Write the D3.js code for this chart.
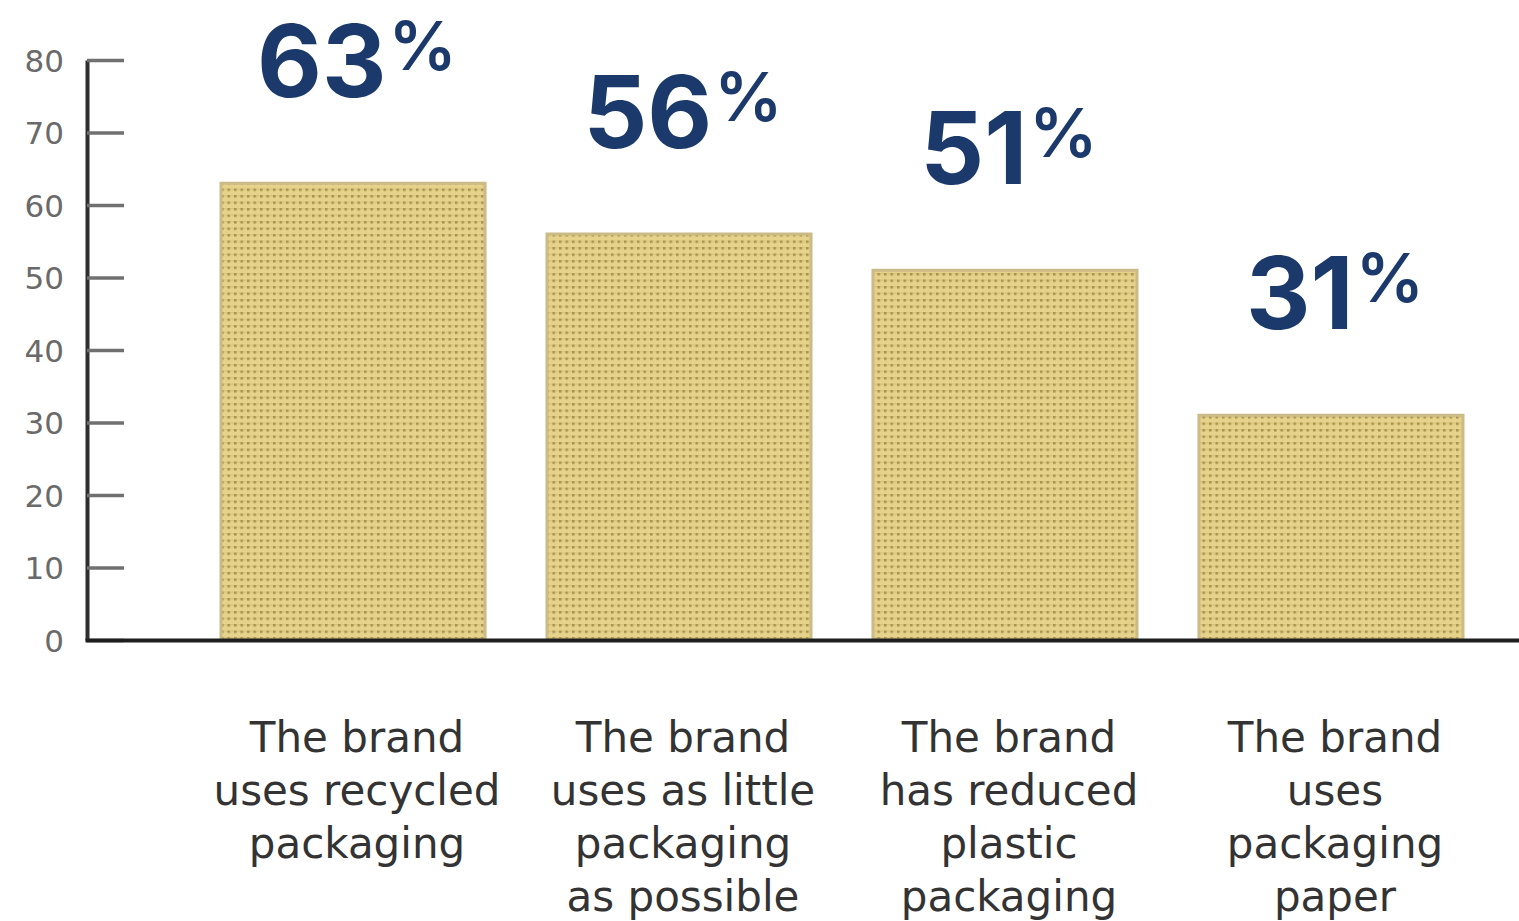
<!DOCTYPE html>
<html>
<head>
<meta charset="utf-8">
<script src="https://cdn.jsdelivr.net/npm/d3@7"></script>
<style>
  html, body { margin: 0; padding: 0; background: #ffffff; }
  svg { display: block; }
</style>
</head>
<body>
<svg id="chart" width="1519" height="921"></svg>
<script>
// Share of shoppers citing each packaging practice (%)
const categories = [
  "The brand uses recycled packaging",
  "The brand uses as little packaging as possible",
  "The brand has reduced plastic packaging",
  "The brand uses packaging paper"
];
const categoryLines = [
  ["The brand", "uses recycled", "packaging"],
  ["The brand", "uses as little", "packaging", "as possible"],
  ["The brand", "has reduced", "plastic", "packaging"],
  ["The brand", "uses", "packaging", "paper"]
];
const values = [63, 56, 51, 31];
const yTicks = [0, 10, 20, 30, 40, 50, 60, 70, 80];

const svg = d3.select("#chart");

const y = d3.scaleLinear().domain([0, 80]).range([640, 60]);
const x = d3.scaleBand().domain(categories).range([221, 1463])
  .paddingInner(0.19).paddingOuter(0);

// dotted kraft-paper texture for the bars
const defs = svg.append("defs");
const pat = defs.append("pattern")
  .attr("id", "kraft").attr("patternUnits", "userSpaceOnUse")
  .attr("width", 6.5).attr("height", 6.5);
pat.append("rect").attr("width", 6.5).attr("height", 6.5).attr("fill", "#e6d28a");
pat.append("rect").attr("x", 0).attr("y", 0).attr("width", 6.5).attr("height", 1.5).attr("fill", "#d9c57c");
pat.append("rect").attr("x", 0).attr("y", 0).attr("width", 2.5).attr("height", 2.5).attr("fill", "#a6934f");

// bars
svg.append("g").selectAll("rect")
  .data(values)
  .join("rect")
  .attr("x", (d, i) => x(categories[i]))
  .attr("y", d => y(d))
  .attr("width", x.bandwidth())
  .attr("height", d => y(0) - y(d))
  .attr("fill", "url(#kraft)")
  .attr("stroke", "#cbbb86")
  .attr("stroke-width", 3);

// left axis with inward ticks
const yAxis = d3.axisLeft(y)
  .tickValues(yTicks)
  .tickSizeInner(-37)
  .tickSizeOuter(0)
  .tickPadding(23);
const gy = svg.append("g").attr("transform", "translate(87,0)").call(yAxis);
gy.select(".domain").attr("stroke", "#2e2e2e").attr("stroke-width", 4);
gy.selectAll(".tick line").attr("stroke", "#707070").attr("stroke-width", 3.5);
gy.selectAll(".tick text")
  .attr("fill", "#6a6a6a")
  .attr("font-family", "'DejaVu Sans', sans-serif")
  .attr("font-size", 31)
  .attr("dy", "0.36em");

// baseline
const xAxis = d3.axisBottom(d3.scaleLinear().domain([0, 1]).range([85, 1519]))
  .tickValues([]).tickSizeOuter(0);
const gx = svg.append("g").attr("transform", `translate(0,${y(0)})`).call(xAxis);
gx.select(".domain").attr("stroke", "#1e1e1e").attr("stroke-width", 4);

// value labels
const vl = svg.append("g").selectAll("text")
  .data(values)
  .join("text")
  .attr("x", (d, i) => x(categories[i]) + x.bandwidth() / 2 + 4)
  .attr("y", d => y(d) - 86)
  .attr("text-anchor", "middle")
  .attr("fill", "#1b3a6b")
  .attr("font-family", "Inter, 'Open Sans', sans-serif");
vl.append("tspan")
  .attr("font-size", 100)
  .attr("font-weight", 700)
  .text(d => d);
vl.append("tspan")
  .attr("font-size", 68)
  .attr("font-weight", 600)
  .attr("dx", 2)
  .attr("dy", -27)
  .text("%");

// category labels
const cl = svg.append("g").selectAll("text")
  .data(categoryLines)
  .join("text")
  .attr("y", 752)
  .attr("text-anchor", "middle")
  .attr("fill", "#333333")
  .attr("font-family", "'DejaVu Sans', sans-serif")
  .attr("font-size", 42);
cl.each(function(lines, i) {
  const t = d3.select(this);
  const cx = x(categories[i]) + x.bandwidth() / 2 + 4;
  lines.forEach((ln, k) => {
    t.append("tspan").attr("x", cx).attr("dy", k === 0 ? 0 : 53).text(ln);
  });
});
</script>
</body>
</html>
